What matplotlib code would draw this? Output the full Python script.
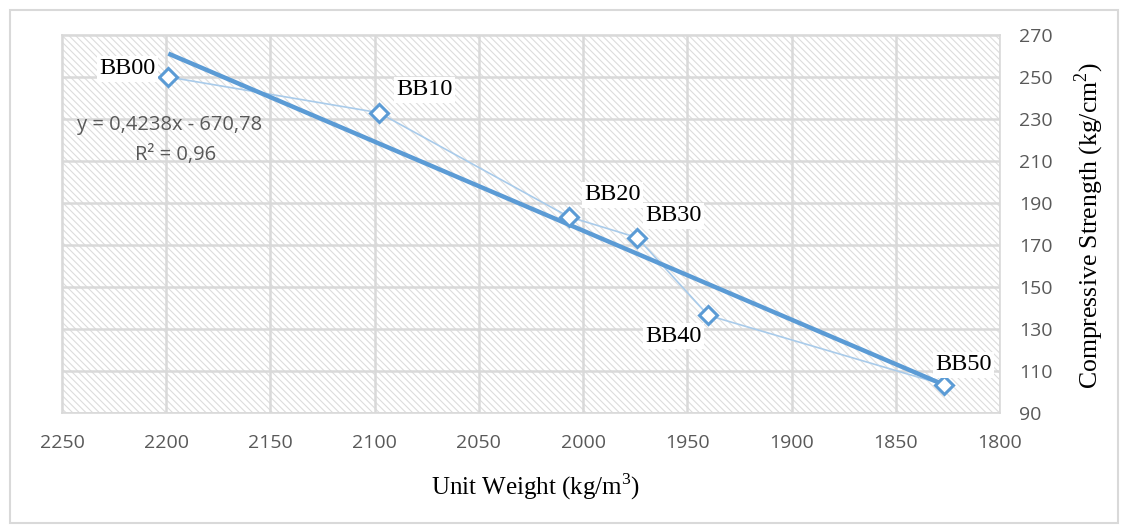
import matplotlib
matplotlib.use("Agg")
import matplotlib.pyplot as plt
from matplotlib.patches import Rectangle
import numpy as np

# ---- data ----
labels = ["BB00", "BB10", "BB20", "BB30", "BB40", "BB50"]
unit_weight = [2199, 2098, 2007, 1974, 1940, 1827]
strength = [250, 233, 183.5, 173.5, 136.5, 103.5]
trend_slope = 0.4238
trend_intercept = -670.78
x_ticks = [2250, 2200, 2150, 2100, 2050, 2000, 1950, 1900, 1850, 1800]
y_ticks = [90, 110, 130, 150, 170, 190, 210, 230, 250, 270]
label_offsets = [(-41, 8), (46, 23), (44, 22), (36, 22), (-35, -21), (20, 20)]

BLUE = "#5B9BD5"
LIGHT = "#A9CBEA"
GRID = "#d9d9d9"
TICK = "#595959"
serif = "Liberation Serif"
sans = "Open Sans"

plt.rcParams["hatch.linewidth"] = 0.8
plt.rcParams["mathtext.fontset"] = "custom"
plt.rcParams["mathtext.rm"] = serif

fig = plt.figure(figsize=(11.22, 5.26), dpi=100)
fig.patches.append(Rectangle((10/1122, 3/526), 1108/1122, 513/526, transform=fig.transFigure,
                             fill=False, edgecolor=GRID, lw=1.5))

W, H = 1122, 526
left, right, top, bottom = 62, 1000, 35, 413
ax = fig.add_axes([left/W, 1 - bottom/H, (right-left)/W, (bottom-top)/H])

# hatched background
ax.add_patch(Rectangle((0, 0), 1, 1, transform=ax.transAxes, facecolor="white",
                       edgecolor="#dcdcdc", hatch="\\\\\\\\\\", lw=0, zorder=0))

ax.set_xlim(2250, 1800)
ax.set_ylim(90, 270)
ax.set_xticks(x_ticks)
ax.set_yticks(y_ticks)
ax.grid(True, color=GRID, lw=1.8)
ax.set_axisbelow(True)
for s in ax.spines.values():
    s.set_color(GRID)
    s.set_linewidth(1.2)
ax.yaxis.tick_right()
ax.yaxis.set_label_position("right")
ax.tick_params(length=0, labelcolor=TICK, labelsize=14)
ax.tick_params(axis="x", pad=15)
ax.tick_params(axis="y", pad=14)
for t in ax.get_xticklabels() + ax.get_yticklabels():
    t.set_fontfamily(sans)

# connecting line + markers
ax.plot(unit_weight, strength, color=LIGHT, lw=1.2, zorder=3)
xt = np.array([max(unit_weight), min(unit_weight)])
ax.plot(xt, trend_slope * xt + trend_intercept, color=BLUE, lw=3.2, zorder=4,
        solid_capstyle="butt")
ax.plot(unit_weight, strength, ls="none", marker="D", ms=9, mfc="white", mec=BLUE,
        mew=2.2, zorder=5)

for lab, x, y, (dx, dy) in zip(labels, unit_weight, strength, label_offsets):
    ax.annotate(lab, (x, y), xytext=(dx * 0.72, dy * 0.72), textcoords="offset points",
                ha="center", va="center", fontsize=17.5, family=serif, color="black",
                bbox=dict(boxstyle="square,pad=0.1", fc="white", ec="none"), zorder=6)

ax.text(170/W, 1 - 125/H, "y = 0,4238x - 670,78", transform=fig.transFigure,
        ha="center", va="center", fontsize=14.5, family=sans, color=TICK, zorder=6)
ax.text(176/W, 1 - 155/H, "R² = 0,96", transform=fig.transFigure,
        ha="center", va="center", fontsize=14.5, family=sans, color=TICK, zorder=6)

fig.text(536/W, 1 - 487/H, r"Unit Weight (kg/m$^\mathrm{3}$)", ha="center", va="center",
         fontsize=18, family=serif, color="black")
fig.text(1089/W, 1 - 226/H, r"Compressive Strength (kg/cm$^\mathrm{2}$)", ha="center",
         va="center", rotation=90, fontsize=18.5, family=serif, color="black")

fig.savefig("out.png", dpi=100)
